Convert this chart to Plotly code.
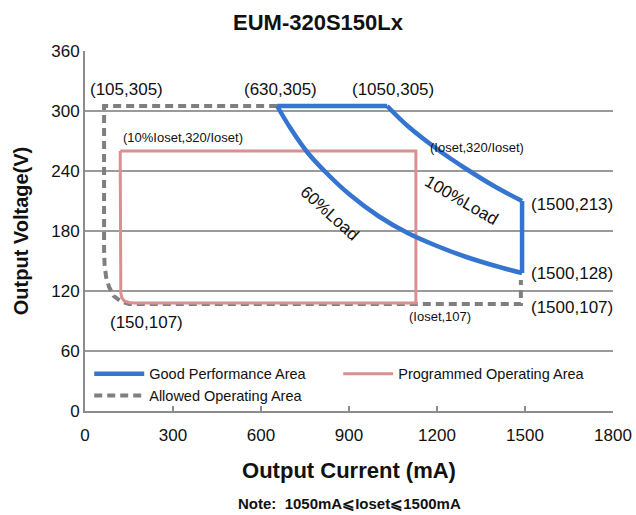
import plotly.graph_objects as go

# (mA, V)
x_ticks = [0, 300, 600, 900, 1200, 1500, 1800]
y_ticks = [0, 60, 120, 180, 240, 300, 360]

good_top_x = [655, 1030]
good_top_y = [305, 305]
load100_x = [1030, 1100, 1200, 1300, 1400, 1490]
load100_y = [305, 285, 262, 242, 224, 210]
good_side_x = [1490, 1490]
good_side_y = [210, 138]
load60_x = [655, 700, 760, 830, 900, 1000, 1100, 1200, 1300, 1400, 1490]
load60_y = [305, 283, 258, 236, 217, 195, 178, 165, 154, 145, 138]

prog_x = [120, 120, 122, 126, 134, 150, 168, 1128, 1128, 120]
prog_y = [260, 126, 118, 113, 110, 108.5, 108, 108, 260, 260]

allowed_x = [655, 65, 65, 67, 72, 82, 98, 120, 150, 1486, 1486]
allowed_y = [305, 305, 160, 145, 134, 124, 115, 110, 107, 107, 131]

BLUE = "#3574cf"
PINK = "#da9090"
GREY = "#7f7f7f"

fig = go.Figure()

fig.add_trace(go.Scatter(x=allowed_x, y=allowed_y, mode="lines", name="Allowed Operating Area",
                         line=dict(color=GREY, width=4, dash="8px,5px"), legendrank=3))
fig.add_trace(go.Scatter(x=prog_x, y=prog_y, mode="lines", name="Programmed Operating Area",
                         line=dict(color=PINK, width=3), legendrank=2))
fig.add_trace(go.Scatter(x=good_top_x, y=good_top_y, mode="lines", name="Good Performance Area",
                         line=dict(color=BLUE, width=4.5), legendrank=1))
fig.add_trace(go.Scatter(x=load100_x, y=load100_y, mode="lines", line_shape="spline",
                         line=dict(color=BLUE, width=4.5), showlegend=False))
fig.add_trace(go.Scatter(x=good_side_x, y=good_side_y, mode="lines",
                         line=dict(color=BLUE, width=4.5), showlegend=False))
fig.add_trace(go.Scatter(x=load60_x, y=load60_y, mode="lines", line_shape="spline",
                         line=dict(color=BLUE, width=4.5), showlegend=False))

big = dict(size=17, color="#111")
small = dict(size=13, color="#111")
labels = [
    (143, 322, "(105,305)", big),
    (665, 322, "(630,305)", big),
    (1050, 322, "(1050,305)", big),
    (333, 274, "(10%Ioset,320/Ioset)", small),
    (1336, 264, "(Ioset,320/Ioset)", small),
    (1660, 207, "(1500,213)", big),
    (1660, 138, "(1500,128)", big),
    (1660, 104, "(1500,107)", big),
    (1211, 95, "(Ioset,107)", small),
    (208, 89, "(150,107)", big),
]
for x, y, t, f in labels:
    fig.add_annotation(x=x, y=y, text=t, showarrow=False, font=f)

fig.add_annotation(x=835, y=198, text="60%Load", showarrow=False, textangle=42,
                   font=dict(size=17, color="#111"))
fig.add_annotation(x=1285, y=211, text="100%Load", showarrow=False, textangle=30,
                   font=dict(size=17, color="#111"))

fig.add_annotation(xref="paper", yref="paper", x=0.5, y=-0.256, yanchor="middle",
                   text="<b>Note:  1050mA⩽Ioset⩽1500mA</b>", showarrow=False,
                   font=dict(size=15, color="#111"))

fig.update_layout(
    width=636, height=515,
    margin=dict(l=85, r=23, t=51, b=104),
    paper_bgcolor="white", plot_bgcolor="white",
    font=dict(family="Liberation Sans, Arial, sans-serif", color="#111"),
    title=dict(text="<b>EUM-320S150Lx</b>", x=0.5, xref="container", y=1 - 22 / 515,
               yref="container", yanchor="middle", font=dict(size=22, color="#111")),
    xaxis=dict(range=[0, 1800], tickvals=x_ticks, showgrid=False, zeroline=False,
               showline=True, linecolor="#8c8c8c", linewidth=2, ticks="inside",
               ticklen=5, tickwidth=2, tickcolor="#8c8c8c", tickfont=dict(size=17),
               ticklabelstandoff=8, automargin=False,
               title=dict(text="<b>Output Current (mA)</b>", font=dict(size=22), standoff=18)),
    yaxis=dict(range=[0, 360], tickvals=y_ticks, showgrid=True, gridcolor="#9a9a9a",
               gridwidth=2, zeroline=False, showline=True, linecolor="#8c8c8c", linewidth=2,
               tickfont=dict(size=17), ticks="", ticklabelstandoff=0, automargin=False,
               title=dict(text="<b>Output Voltage(V)</b>", font=dict(size=20), standoff=17)),
    legend=dict(orientation="h", x=0.008, y=0.148, xanchor="left", yanchor="top",
                bgcolor="rgba(0,0,0,0)", font=dict(size=14.5), entrywidth=184,
                tracegroupgap=0, itemwidth=50),
)

fig.write_html("out.html", config={"displayModeBar": False},
               post_script="document.body.style.margin='0px';")
